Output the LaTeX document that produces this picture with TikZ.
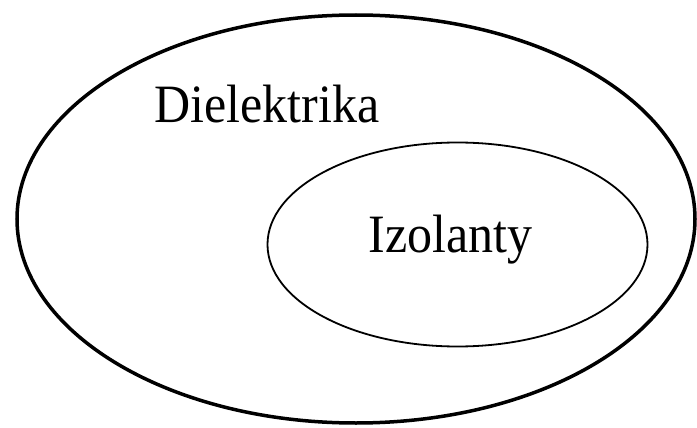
\documentclass[tikz,border=0pt]{standalone}
\usepackage{fontspec}
\setmainfont{Liberation Serif}
\begin{document}
\begin{tikzpicture}[x=1pt,y=1pt,
  lbl/.style={anchor=base,inner sep=0pt,font=\fontsize{50}{60}\selectfont,yscale=1.08,transform shape}]
\useasboundingbox (0,0) rectangle (697,-428);
\draw[line width=3.5pt] (356,-219) ellipse [x radius=339, y radius=204];
\draw[line width=1.8pt] (457.5,-244.5) ellipse [x radius=190, y radius=102];
\node[lbl] (diel) at (267,-122) {Dielektrika};
\node[lbl] (izol) at (450.5,-252) {Izolanty};
\end{tikzpicture}
\end{document}
